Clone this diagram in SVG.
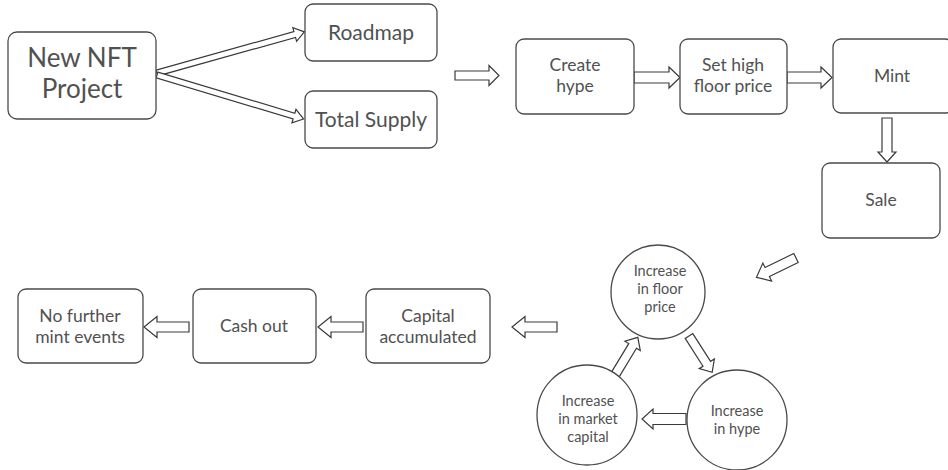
<svg xmlns="http://www.w3.org/2000/svg" width="948" height="470" viewBox="0 0 948 470">
  <style>
    .box { fill: #ffffff; stroke: #4a4a4a; stroke-width: 1.3; }
    .arrow { fill: #ffffff; stroke: #3a3a3a; stroke-width: 1.2; stroke-linejoin: miter; }
    text { font-family: Lato, "Open Sans", "Liberation Sans", sans-serif; fill: #515151; text-anchor: middle; }
    .xl { font-size: 26px; }
    .lg { font-size: 21px; }
    .md { font-size: 17.5px; }
    .sm { font-size: 14.5px; }
  </style>
  <rect width="948" height="470" fill="#ffffff"/>

  <!-- connectors: hollow block arrows -->
  <g id="connectors">
    <polygon class="arrow" transform="translate(157,73) rotate(-15.6)" points="0,-3 143,-3 143,-7 153,0 143,7 143,3 0,3"/>
    <polygon class="arrow" transform="translate(157,75) rotate(16.7)" points="0,-3 143,-3 143,-7 153,0 143,7 143,3 0,3"/>
    <polygon class="arrow" points="455,71 489,71 489,65.5 499,75.5 489,85.5 489,80 455,80"/>
    <polygon class="arrow" points="634,72 669,72 669,67 680,77.5 669,88 669,83 634,83"/>
    <polygon class="arrow" points="787,72 821,72 821,67 832,77.5 821,88 821,83 787,83"/>
    <polygon class="arrow" points="882,118 892,118 892,152 896,152 887,162 878,152 882,152"/>
    <polygon class="arrow" transform="translate(796,258) rotate(154)" points="0,-5 32,-5 32,-10 44,0 32,10 32,5 0,5"/>
    <polygon class="arrow" transform="translate(689,336) rotate(57.4)" points="0,-4.5 33,-4.5 33,-9 43,0 33,9 33,4.5 0,4.5"/>
    <polygon class="arrow" points="686,413.5 653,413.5 653,409 642,419 653,429 653,424.5 686,424.5"/>
    <polygon class="arrow" transform="translate(615,375) rotate(-58.8)" points="0,-4.5 34,-4.5 34,-9 44,0 34,9 34,4.5 0,4.5"/>
    <polygon class="arrow" points="557,322 525,322 525,316.5 512,327 525,337.5 525,332 557,332"/>
    <polygon class="arrow" points="363,322 331,322 331,316.5 318,327 331,337.5 331,332 363,332"/>
    <polygon class="arrow" points="189,322 157,322 157,316.5 144,327 157,337.5 157,332 189,332"/>
  </g>

  <!-- nodes -->
  <g id="new-nft-project">
    <rect class="box" x="8" y="32" width="148" height="87" rx="9"/>
    <text class="xl" x="82" y="67">New NFT</text>
    <text class="xl" x="82" y="98">Project</text>
  </g>
  <g id="roadmap">
    <rect class="box" x="305" y="4" width="132" height="57" rx="8"/>
    <text class="lg" x="371" y="40">Roadmap</text>
  </g>
  <g id="total-supply">
    <rect class="box" x="305" y="91" width="132" height="57" rx="8"/>
    <text class="lg" x="371" y="127">Total Supply</text>
  </g>
  <g id="create-hype">
    <rect class="box" x="516" y="39" width="118" height="75" rx="8"/>
    <text class="md" x="575" y="71">Create</text>
    <text class="md" x="575" y="92">hype</text>
  </g>
  <g id="set-high-floor-price">
    <rect class="box" x="680" y="39" width="107" height="75" rx="8"/>
    <text class="md" x="733" y="71">Set high</text>
    <text class="md" x="733" y="92">floor price</text>
  </g>
  <g id="mint">
    <rect class="box" x="833" y="39" width="120" height="74" rx="8"/>
    <text class="md" x="892" y="82">Mint</text>
  </g>
  <g id="sale">
    <rect class="box" x="822" y="163" width="118" height="75" rx="8"/>
    <text class="md" x="881" y="206">Sale</text>
  </g>
  <g id="increase-floor-price">
    <circle class="box" cx="658" cy="292" r="47"/>
    <text class="sm" x="660" y="276">Increase</text>
    <text class="sm" x="660" y="294">in floor</text>
    <text class="sm" x="660" y="312">price</text>
  </g>
  <g id="increase-hype">
    <circle class="box" cx="737" cy="420" r="50"/>
    <text class="sm" x="737" y="416">Increase</text>
    <text class="sm" x="737" y="434">in hype</text>
  </g>
  <g id="increase-market-capital">
    <circle class="box" cx="587" cy="415" r="50"/>
    <text class="sm" x="588" y="406">Increase</text>
    <text class="sm" x="588" y="424">in market</text>
    <text class="sm" x="588" y="442">capital</text>
  </g>
  <g id="capital-accumulated">
    <rect class="box" x="366" y="289" width="124" height="74" rx="8"/>
    <text class="md" x="428" y="322">Capital</text>
    <text class="md" x="428" y="343">accumulated</text>
  </g>
  <g id="cash-out">
    <rect class="box" x="193" y="289" width="123" height="74" rx="8"/>
    <text class="md" x="254" y="332">Cash out</text>
  </g>
  <g id="no-further-mint-events">
    <rect class="box" x="18" y="289" width="125" height="74" rx="8"/>
    <text class="md" x="80" y="322">No further</text>
    <text class="md" x="80" y="343">mint events</text>
  </g>
</svg>
